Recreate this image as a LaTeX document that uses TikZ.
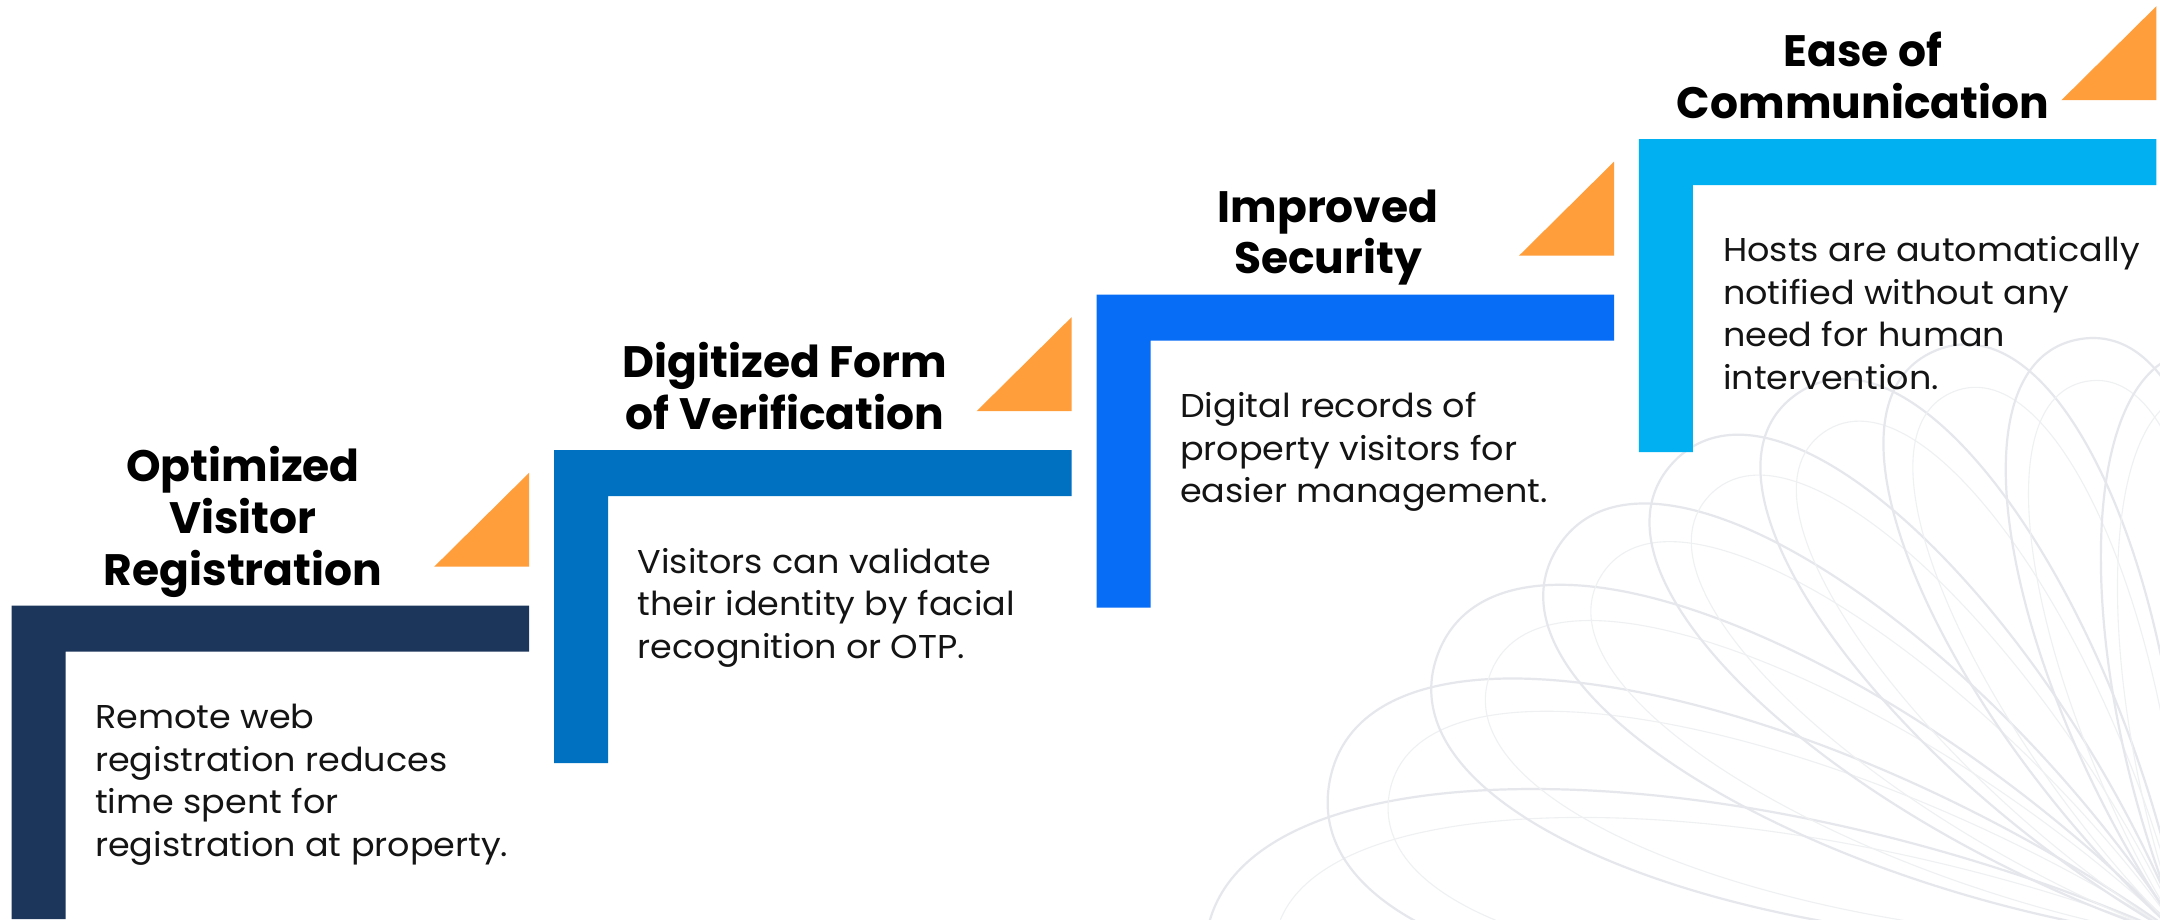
\documentclass[tikz,border=0pt]{standalone}
\usepackage{fontspec}
\setmainfont{Poppins}
\newfontfamily\bodyfont{Poppins}[FakeStretch=1.06]
\definecolor{cnavy}{HTML}{1C355A}
\definecolor{cblue}{HTML}{0070C0}
\definecolor{cbright}{HTML}{076DF6}
\definecolor{csky}{HTML}{00B0F0}
\definecolor{corange}{HTML}{FF9E3A}
\definecolor{cline}{HTML}{E5E7EC}
\definecolor{clinelt}{HTML}{EEF0F2}
\tikzset{
  stepbar/.style={fill=#1},
  tri/.style={fill=corange},
  ttl/.style={font=\fontsize{44}{51.7}\selectfont\bfseries, align=center, anchor=south, inner sep=0pt, text=black},
  bodytext/.style={font=\bodyfont\fontsize{33}{42.4}\selectfont, align=left, anchor=north west, inner sep=0pt, text=black!92},
  petalout/.style={draw=cline, line width=2.2pt},
  petalin/.style={draw=clinelt, line width=1.1pt},
}
\begin{document}
\begin{tikzpicture}[x=1pt,y=-1pt]
\useasboundingbox (0,0) rectangle (2160,919);
\fill[white] (0,0) rectangle (2160,919);
% background petals
\begin{scope}
\clip (0,0) rectangle (2160,919);
\foreach \ang/\len in {181/980, 169.5/870, 159/800, 148/740, 137/700, 125.5/670, 113/640, 100/610, 88/590} {
  \pgfmathsetmacro{\w}{0.17*\len}
  \pgfmathsetmacro{\Li}{0.93*\len}
  \pgfmathsetmacro{\wi}{0.82*\w}
  \begin{scope}[shift={(2185,940)}, rotate=\ang]
    \draw[petalout] (0,0) .. controls (0.45*\len,1.25*\w) and (\len,1.35*\w) .. (\len,0)
      .. controls (\len,-1.35*\w) and (0.45*\len,-1.25*\w) .. (0,0);
    \draw[petalin] (0,0) .. controls (0.45*\Li,1.25*\wi) and (\Li,1.35*\wi) .. (\Li,0)
      .. controls (\Li,-1.35*\wi) and (0.45*\Li,-1.25*\wi) .. (0,0);
  \end{scope}
}
\end{scope}
% step 1
\fill[stepbar=cnavy] (11.7,605.7) -- (529.2,605.7) -- (529.2,651.7) -- (65.7,651.7) -- (65.7,919) -- (11.7,919) -- cycle;
\fill[tri] (434.2,566.7) -- (529.2,566.7) -- (529.2,472.7) -- cycle;
\node[ttl] (t1) at (243,600.7) {Optimized\\Visitor\\Registration\strut};
\node[bodytext] (b1) at (95,699) {\strut Remote web\\registration reduces\\time spent for\\registration at property.};
% step 2
\fill[stepbar=cblue] (554.1,450.2) -- (1071.6,450.2) -- (1071.6,496.2) -- (608.1,496.2) -- (608.1,763.2) -- (554.1,763.2) -- cycle;
\fill[tri] (976.6,411.2) -- (1071.6,411.2) -- (1071.6,317.2) -- cycle;
\node[ttl] (t2) at (785,445.2) {Digitized Form\\of Verification\strut};
\node[bodytext] (b2) at (637.5,543.5) {\strut Visitors can validate\\their identity by facial\\recognition or OTP.};
% step 3
\fill[stepbar=cbright] (1096.5,294.7) -- (1614.0,294.7) -- (1614.0,340.7) -- (1150.5,340.7) -- (1150.5,607.7) -- (1096.5,607.7) -- cycle;
\fill[tri] (1519.0,255.7) -- (1614.0,255.7) -- (1614.0,161.7) -- cycle;
\node[ttl] (t3) at (1328,289.7) {Improved\\Security\strut};
\node[bodytext] (b3) at (1180,388) {\strut Digital records of\\property visitors for\\easier management.};
% step 4
\fill[stepbar=csky] (1638.9,139.2) -- (2156.4,139.2) -- (2156.4,185.2) -- (1692.9,185.2) -- (1692.9,452.2) -- (1638.9,452.2) -- cycle;
\fill[tri] (2061.4,100.2) -- (2156.4,100.2) -- (2156.4,6.2) -- cycle;
\node[ttl] (t4) at (1863,134.2) {Ease of\\Communication\strut};
\node[bodytext] (b4) at (1723,232) {\strut Hosts are automatically\\notified without any\\need for human\\intervention.};
\end{tikzpicture}
\end{document}
